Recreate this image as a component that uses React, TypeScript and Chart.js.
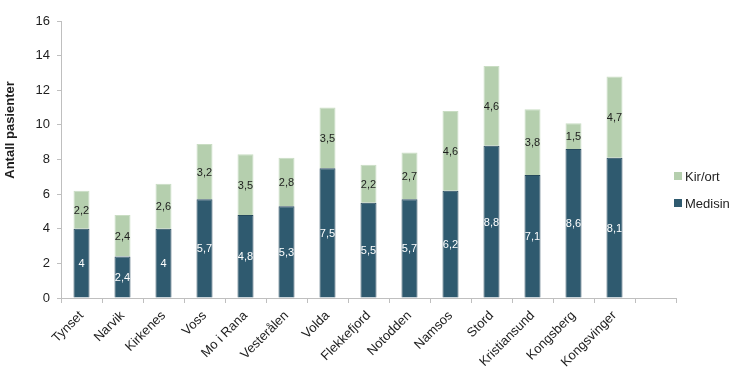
import React, { useEffect, useRef } from "react";
import { Chart, registerables } from "chart.js";

Chart.register(...registerables);

// ---- Data ----
const categories = [
  "Tynset", "Narvik", "Kirkenes", "Voss", "Mo i Rana", "Vesterålen", "Volda",
  "Flekkefjord", "Notodden", "Namsos", "Stord", "Kristiansund", "Kongsberg", "Kongsvinger", "",
];
const medisin = [4, 2.4, 4, 5.7, 4.8, 5.3, 7.5, 5.5, 5.7, 6.2, 8.8, 7.1, 8.6, 8.1];
const kirOrt = [2.2, 2.4, 2.6, 3.2, 3.5, 2.8, 3.5, 2.2, 2.7, 4.6, 4.6, 3.8, 1.5, 4.7];
const yMin = 0;
const yMax = 16;
const yStep = 2;
const yTitle = "Antall pasienter";
const seriesNames = ["Medisin", "Kir/ort"];

const DARK = "#2f5a6f";
const GREEN = "#b5cfae";
const AXIS = "#bfbfbf";
const FONT = "'Liberation Sans', Arial, sans-serif";

const fmt = (v: number) => String(v).replace(".", ",");

const labelPlugin = {
  id: "segLabels",
  afterDatasetsDraw(chart: any) {
    const ctx = chart.ctx;
    ctx.save();
    ctx.font = `11px ${FONT}`;
    ctx.textAlign = "center";
    ctx.textBaseline = "middle";
    chart.data.datasets.forEach((ds: any, di: number) => {
      const meta = chart.getDatasetMeta(di);
      ctx.fillStyle = di === 0 ? "#ffffff" : "#1e1e1e";
      meta.data.forEach((el: any, i: number) => {
        const v = ds.data[i];
        if (v == null) return;
        const y = (el.y + el.base) / 2;
        ctx.fillText(fmt(v), el.x, y + 1);
      });
    });
    ctx.restore();
  },
};

const legendTitlePlugin = {
  id: "legendTitle",
  afterDraw(chart: any) {
    const ctx = chart.ctx;
    const area = chart.chartArea;
    ctx.save();
    // legend (Kir/ort on top, Medisin below)
    const items = [
      { name: seriesNames[1], color: GREEN },
      { name: seriesNames[0], color: DARK },
    ];
    const cy = chart.height / 2;
    const bx = area.right - 2;
    items.forEach((it, i) => {
      const y = cy - 13 + i * 27;
      ctx.fillStyle = it.color;
      ctx.fillRect(bx, y - 4, 8, 8);
      ctx.fillStyle = "#1e1e1e";
      ctx.font = `13px ${FONT}`;
      ctx.textAlign = "left";
      ctx.textBaseline = "middle";
      ctx.fillText(it.name, bx + 11, y + 1);
    });
    // y axis title
    ctx.translate(10, 130);
    ctx.rotate(-Math.PI / 2);
    ctx.font = `bold 13px ${FONT}`;
    ctx.textAlign = "center";
    ctx.textBaseline = "middle";
    ctx.fillStyle = "#1e1e1e";
    ctx.fillText(yTitle, 0, 0);
    ctx.restore();
  },
};

export default function App() {
  const ref = useRef<HTMLCanvasElement | null>(null);
  useEffect(() => {
    if (!ref.current) return;
    const chart = new Chart(ref.current, {
      type: "bar",
      data: {
        labels: categories,
        datasets: [
          {
            label: seriesNames[0],
            data: medisin,
            backgroundColor: DARK,
            borderColor: "#26495c",
            borderWidth: 1,
            barPercentage: 0.39,
            categoryPercentage: 1,
          },
          {
            label: seriesNames[1],
            data: kirOrt,
            backgroundColor: GREEN,
            borderColor: "#c9ddc3",
            borderWidth: 1,
            barPercentage: 0.39,
            categoryPercentage: 1,
          },
        ],
      },
      options: {
        responsive: false,
        animation: false,
        layout: { padding: { top: 21, right: 54, left: 0, bottom: 0 } },
        plugins: { legend: { display: false }, tooltip: { enabled: false } },
        scales: {
          x: {
            stacked: true,
            afterFit: (s: any) => { s.height = 80; },
            grid: { offset: true, drawOnChartArea: false, tickLength: 5, color: AXIS },
            border: { color: AXIS },
            ticks: {
              maxRotation: 45,
              minRotation: 45,
              autoSkip: false,
              padding: 5,
              color: "#1e1e1e",
              font: { family: FONT, size: 13 },
            },
          },
          y: {
            stacked: true,
            min: yMin,
            max: yMax,
            afterFit: (s: any) => { s.width = 61; },
            grid: { drawOnChartArea: false, tickLength: 4, color: AXIS },
            border: { color: AXIS },
            ticks: {
              stepSize: yStep,
              padding: 7,
              color: "#1e1e1e",
              font: { family: FONT, size: 13 },
            },
          },
        },
      },
      plugins: [labelPlugin, legendTitlePlugin],
    });
    return () => chart.destroy();
  }, []);
  return (
    <div style={{ position: "fixed", left: 0, top: 0, width: 730, height: 378, background: "#fff" }}>
      <canvas ref={ref} width={730} height={378} />
    </div>
  );
}
